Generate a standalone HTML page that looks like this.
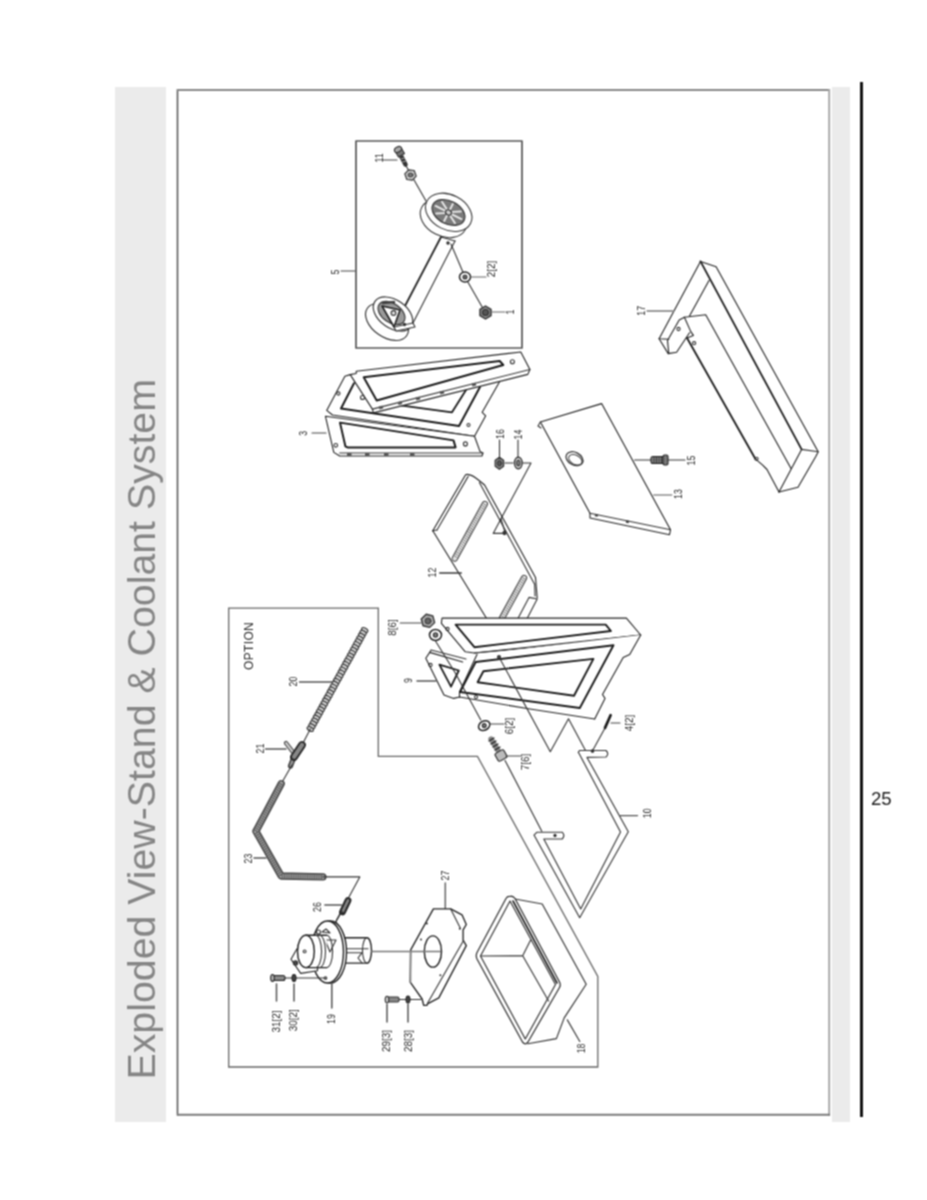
<!DOCTYPE html>
<html>
<head>
<meta charset="utf-8">
<style>
html,body{margin:0;padding:0;background:#fff;}
body{width:927px;height:1200px;position:relative;overflow:hidden;font-family:"Liberation Sans",sans-serif;}
svg{position:absolute;left:0;top:0;}
</style>
</head>
<body>
<svg width="927" height="1200" viewBox="0 0 927 1200">
<defs><filter id="bl" x="0" y="0" width="927" height="1200" filterUnits="userSpaceOnUse" color-interpolation-filters="sRGB"><feConvolveMatrix order="3" kernelMatrix="1 2 1 2 4 2 1 2 1" divisor="16" edgeMode="none"/></filter></defs>
<g filter="url(#bl)">
<rect x="0" y="0" width="927" height="1200" fill="#fff"/>
<rect x="115" y="87" width="51" height="1035" fill="#ebebeb"/>
<rect x="832" y="87" width="18" height="1035" fill="#ebebeb"/>
<rect x="860" y="82" width="3" height="1035" fill="#141414"/>
<text x="871" y="805" font-family="Liberation Sans" font-size="18.6" fill="#1a1a1a">25</text>
<text x="155" y="1079.5" transform="rotate(-90 155 1079.5)" font-family="Liberation Sans" font-size="39.3" fill="#858585">Exploded View-Stand &amp; Coolant System</text>
<path d="M177.5 89 V1115.5" stroke="#5a5a5a" stroke-width="1.6" fill="none"/>
<path d="M177 90 H830" stroke="#888" stroke-width="2" fill="none"/>
<path d="M829.2 89 V1115.7" stroke="#a8a8a8" stroke-width="2" fill="none"/>
<path d="M177 1114.7 H830" stroke="#7a7a7a" stroke-width="2" fill="none"/>
<g id="drawing" fill="none" stroke="#333" stroke-width="1.1" stroke-linejoin="round" stroke-linecap="round">
<!-- PART 5 inset -->
<rect x="356" y="141" width="166" height="207" stroke="#555" stroke-width="1.70"/>
<path d="M341 271 H355" stroke="#444"/>
<!-- bolt 11 -->
<path d="M383 160 H397" stroke="#444"/>
<path d="M400 154 L405.5 164.5" stroke="#333" stroke-width="4.50"/>
<path d="M399.5 156 L403 155 M401 159 L404.5 158 M402.5 162 L406 161" stroke="#999" stroke-width="1.07"/>
<path d="M395 151 L401 147.5 L404.5 153.5 L398.5 157 Z" fill="#777" stroke="#333"/>
<ellipse cx="398" cy="149.5" rx="3.8" ry="2.6" fill="#aaa" stroke="#333" transform="rotate(-30 398 149.5)"/>
<path d="M405 164 L426 201" stroke="#333"/>
<polygon points="410.5,169.5 415.5,172 415.5,178 410.5,180.5 405.5,178 405.5,172" fill="#c8c8c8" stroke="#333" stroke-width="1.16" transform="rotate(-20 410.5 175)"/>
<ellipse cx="410.5" cy="175" rx="2.5" ry="2" fill="#777" stroke="#333" stroke-width="0.89"/>
<!-- upper wheel -->
<ellipse cx="443.5" cy="218.5" rx="24.5" ry="17.5" fill="#fff" stroke="#333" stroke-width="1.07" transform="rotate(27 443.5 218.5)"/>
<ellipse cx="448.7" cy="212.3" rx="24.5" ry="17.5" fill="#fff" stroke="#333" stroke-width="1.07" transform="rotate(27 448.7 212.3)"/>
<g transform="rotate(27 448.5 212.5)">
<ellipse cx="448.5" cy="212.5" rx="17.5" ry="11.5" fill="#7a7a7a" stroke="#333"/>
<path d="M434 212.5 H444 M453 212.5 H463 M448.5 203 V209 M448.5 216 V222 M438 206 L445 210 M452 215 L459 219 M438 219 L445 215 M452 210 L459 206" stroke="#e8e8e8" stroke-width="1.97"/>
<ellipse cx="448.5" cy="212.5" rx="3" ry="2.5" fill="#ccc" stroke="#333"/>
</g>
<!-- axle -->
<path d="M441 237 L394 327" stroke="#222" stroke-width="1.79"/>
<path d="M455 241 L413 323" stroke="#333"/>
<path d="M441 237 L455 241" stroke="#333"/>
<circle cx="448" cy="243" r="1.2" fill="#333"/>
<!-- lower wheel -->
<ellipse cx="387" cy="322" rx="24" ry="15" fill="#fff" stroke="#333" stroke-width="1.16" transform="rotate(35 387 322)"/>
<ellipse cx="393" cy="314" rx="22" ry="14" fill="#fff" stroke="#333" stroke-width="1.16" transform="rotate(35 393 314)"/>
<ellipse cx="391.5" cy="313" rx="15" ry="9.5" fill="#9a9a9a" stroke="#333" transform="rotate(35 391.5 313)"/>
<path d="M382 306 L400 310 L394 327 Z" fill="#fff" stroke="#222" stroke-width="1.61"/>
<path d="M383 303 L394 302" stroke="#444" stroke-width="2.60"/>
<circle cx="393.5" cy="313" r="2.4" fill="#ddd" stroke="#333"/>
<path d="M394 327 L413 323 L415 327 L396 331 Z" fill="#fff" stroke="#333"/>
<circle cx="404.5" cy="324.5" r="1.1" fill="#333"/>
<!-- washers/nut -->
<path d="M451 244 L465 277 L485 312" stroke="#333"/>
<ellipse cx="465" cy="277" rx="5.5" ry="5" fill="#fff" stroke="#222" stroke-width="1.52"/>
<circle cx="465" cy="277" r="2" fill="#666"/>
<path d="M471 277 H486" stroke="#666"/>
<polygon points="485.5,306 491,309.3 491,315.7 485.5,319 480,315.7 480,309.3" fill="#8a8a8a" stroke="#333" stroke-width="1.43"/>
<circle cx="485.5" cy="312.5" r="3" fill="#555" stroke="#333"/>
<path d="M492 312 H505" stroke="#666"/>

<!-- PART 3 -->
<!-- B back bracket -->
<path d="M350.2 374.6 L344.9 376.2 L326.7 410.4 L332.5 415 L474.5 436.2 L485.7 415.8 L482.2 412.3 L499.7 381.5" fill="#fff" stroke="#222"/>
<path d="M354 383.2 L341 408.5 L459 426 L480 387" stroke="#1a1a1a" stroke-width="1.97"/>
<path d="M400.4 405.3 L452 412.3 L466 390" stroke="#1a1a1a" stroke-width="1.79"/>
<circle cx="468.5" cy="425" r="1.5" stroke="#333"/>
<circle cx="338.4" cy="393.5" r="1.6" stroke="#333"/>
<!-- A top bracket -->
<path d="M356.2 371.3 L520.8 352 L529.9 369.5 L527.8 374.4 L373.4 412.9 L372.4 409.1 L350.2 374.6 L356.2 373.5 Z" fill="#fff" stroke="#222"/>
<path d="M529.9 369.5 L372.4 409.1" stroke="#333"/>
<path d="M363.7 377.3 L499.7 361 L503.3 365 L376.7 400.5 Z" stroke="#1a1a1a" stroke-width="1.97"/>
<circle cx="512.4" cy="361.8" r="2" stroke="#333"/>
<circle cx="362.5" cy="397.5" r="2" stroke="#333"/>
<g fill="#555" stroke="none">
<rect x="379" y="406" width="4" height="3" transform="rotate(-14 381 407.5)"/>
<rect x="398" y="401.5" width="4" height="3" transform="rotate(-14 400 403)"/>
<rect x="416" y="397" width="4" height="3" transform="rotate(-14 418 398.5)"/>
<rect x="440" y="391" width="4" height="3" transform="rotate(-14 442 392.5)"/>
<rect x="472" y="383" width="4" height="3" transform="rotate(-14 474 384.5)"/>
</g>
<!-- C bottom bracket -->
<path d="M325.4 416.2 L474.5 436.2 L480.1 451.6 L482.9 453 L482 456 L339.7 456 L333.8 452.4 Z" fill="#fff" stroke="#222"/>
<path d="M339.7 453 L482.9 453" stroke="#333"/>
<path d="M340 422.6 L453.5 440.4 L455.6 447.4 L347.5 447.4 L345.4 446.3 Z" stroke="#1a1a1a" stroke-width="1.97"/>
<circle cx="465.4" cy="443.9" r="2" stroke="#333"/>
<circle cx="335.8" cy="445.3" r="1.8" stroke="#333"/>
<g fill="#555" stroke="none">
<rect x="347" y="453" width="4.5" height="3"/>
<rect x="365" y="453" width="4.5" height="3"/>
<rect x="384" y="453" width="4.5" height="3"/>
<rect x="410" y="453" width="4.5" height="3"/>
</g>
<path d="M312 433 H326" stroke="#444"/>

<!-- PART 17 -->
<path d="M700.5 261.4 L716.1 266.8 L818.2 451.7 L815.8 456.5 L798 487.3 L779 492 L767 469.5 L755.3 458.8 L687 338 L693.4 335.4 L690.8 331.6 L684.4 317.3 L679.2 319.9 L667.5 340.6 L668.8 353.6 L659.1 338.7 Z" fill="#fff" stroke="none"/>
<path d="M700.5 261.4 L716.1 266.8 L818.2 451.7 L815.8 456.5 L798 487.3 L779 492" stroke="#222"/>
<path d="M700.5 261.4 L801.6 449.4" stroke="#1a1a1a" stroke-width="1.79"/>
<path d="M801.6 449.4 L818.2 451.7" stroke="#333"/>
<path d="M801.6 449.4 L779 492" stroke="#222"/>
<path d="M700.5 261.4 L659.1 338.7 L668.8 339.3" stroke="#222"/>
<path d="M659.1 338.7 L668.2 353.6 L676.6 352.3 L689.5 332.8" stroke="#222"/>
<path d="M709 280.4 L689.5 316" stroke="#222"/>
<path d="M684.4 317.3 L705.7 314.7 L790.9 468.3" stroke="#222"/>
<path d="M684.4 317.3 L679.2 319.9 L667.5 340.6 L668.8 353.6" stroke="#222"/>
<path d="M684.4 317.3 L690.8 331.6 L693.4 335.4 L687 338" stroke="#222"/>
<path d="M687 338 L755.3 458.8" stroke="#1a1a1a" stroke-width="1.79"/>
<path d="M755.3 458.8 L762.4 464.8 L767 469.5 L779 492" stroke="#222"/>
<circle cx="678.5" cy="329" r="1.6" stroke="#333"/>
<circle cx="694.1" cy="343.2" r="1.6" stroke="#333"/>
<circle cx="756.5" cy="458.8" r="1.6" stroke="#333"/>
<path d="M647.3 310.9 H673" stroke="#999" stroke-width="1.97"/>
<!-- PART 13 plate -->
<path d="M540.4 422 L601.6 403.6 L670.5 529.8 L669.5 534.7 L590 518 L590 513.3 Z" fill="#fff" stroke="#222"/>
<path d="M590 513.3 L670.5 529.8" stroke="#333"/>
<path d="M540.4 422 L538 426 L541 428" stroke="#333"/>
<rect x="595" y="514" width="3" height="2.5" fill="#444" stroke="none" transform="rotate(12 596.5 515)"/>
<rect x="626" y="520.5" width="3" height="2.5" fill="#444" stroke="none" transform="rotate(12 627.5 521.5)"/>
<ellipse cx="574.5" cy="458.7" rx="9" ry="6.3" stroke="#333" stroke-width="1.25" transform="rotate(28 574.5 458.7)"/>
<ellipse cx="575.3" cy="459.8" rx="7.2" ry="4.6" stroke="#444" stroke-width="1.07" transform="rotate(28 575.3 459.8)"/>
<path d="M634.6 460 H651" stroke="#333"/>
<path d="M654 495 H671.5" stroke="#aaa" stroke-width="1.97"/>
<!-- 15 bolt -->
<rect x="651" y="456.5" width="15" height="7" rx="2" fill="#888" stroke="#222"/>
<path d="M654 457 V463 M656.5 457 V463 M659 457 V463 M661.5 457 V463" stroke="#333" stroke-width="1.07"/>
<rect x="663" y="455" width="5" height="10" rx="1.5" fill="#777" stroke="#222"/>
<path d="M668 460 H685" stroke="#333"/>

<!-- PART 12 shelf -->
<path d="M465.6 474.7 L479.4 480.7 L484.6 485 L535.5 577.4 L537.2 598 L529.4 598 L519 618 L486.3 618 L432.8 530.8 Z" fill="#fff" stroke="none"/>
<path d="M432.8 530.8 L465.6 474.7 Q470 473 479.4 480.7 L484.6 485 L535.5 577.4 L537.2 598" stroke="#222"/>
<path d="M437 530 L468.2 476.4" stroke="#333"/>
<path d="M432.8 530.8 L437 530" stroke="#333"/>
<path d="M479.4 482.4 L534.6 584.3" stroke="#333"/>
<path d="M432.8 530.8 L486.3 618" stroke="#222"/>
<path d="M537.2 599 L529 597.4 L518.2 618 M537.2 599 L527.4 618" stroke="#333"/>
<path d="M534.6 584.3 L535 596" stroke="#333"/>
<!-- slots -->
<path d="M484.8 504 L454.8 558.5" stroke="#333" stroke-width="6.30"/>
<path d="M484.8 504 L454.8 558.5" stroke="#e6e6e6" stroke-width="4.50"/>
<path d="M484.8 504 L454.8 558.5" stroke="#666" stroke-width="4.50" stroke-dasharray="0.7 1.6" stroke-linecap="butt"/>
<path d="M524 578 L502 618" stroke="#333" stroke-width="6.30"/>
<path d="M524 578 L501 620" stroke="#e6e6e6" stroke-width="4.50"/>
<path d="M524 578 L501 620" stroke="#666" stroke-width="4.50" stroke-dasharray="0.7 1.6" stroke-linecap="butt"/>
<path d="M439.7 573 H461.3" stroke="#3a3a3a" stroke-width="1.43"/>
<!-- 16 / 14 -->
<path d="M499.5 440 V457 M518 440 V457" stroke="#333"/>
<path d="M505 463 H513 M523 463 H531 L501 518.7" stroke="#333"/>
<path d="M501 518.7 L493.2 533.4 L505.3 533.4 Z" stroke="#333"/>
<circle cx="504.5" cy="533" r="1.6" fill="#333"/>
<polygon points="499.4,457.3 503.6,460.3 503.6,466.3 499.4,469.3 495.2,466.3 495.2,460.3" fill="#8a8a8a" stroke="#333" stroke-width="1.25"/>
<ellipse cx="499.4" cy="463.3" rx="2.2" ry="2.8" fill="#555" stroke="#333" stroke-width="0.89"/>
<ellipse cx="518.3" cy="463" rx="3.8" ry="5.8" fill="#ddd" stroke="#333" stroke-width="1.43"/>
<ellipse cx="518.3" cy="463" rx="1.6" ry="3" fill="#888" stroke="#333" stroke-width="1.07"/>

<!-- PART 9 -->
<!-- small left bracket -->
<path d="M429.7 652.4 L425.8 658.3 L444 695 L453.7 698.4 L470 700 L477 654.4 L462.7 662 Z" fill="#fff" stroke="none"/>
<path d="M462.7 662 L429.7 652.4 L425.8 658.3 L444 695 L453.7 698.4" stroke="#222"/>
<path d="M429.7 652.4 L431 650 L466 659" stroke="#333"/>
<path d="M439.4 664.7 L451 686.7 L458.8 670.5 Z" stroke="#1a1a1a" stroke-width="1.79"/>
<circle cx="430.5" cy="665" r="1.6" stroke="#333"/>
<!-- top plate -->
<path d="M442 618.1 L626.4 618.1 L640.7 635 L474.4 653 L465.3 651.8 L441.4 623.3 Z" fill="#fff" stroke="#222"/>
<path d="M640.7 635 L530 648 L474.4 653" stroke="#333"/>
<path d="M455.6 624.6 L605.7 624.6 L610.9 631 L474.4 647.2 Z" stroke="#1a1a1a" stroke-width="1.88"/>
<circle cx="447.5" cy="629" r="1.6" stroke="#333"/>
<!-- main frame -->
<path d="M477 654.4 L640.7 635 L629.7 654.4 L623.2 657.6 L602.5 694.5 L605 698.4 L594.7 719 L459.5 697 L454 700 L460 692 Z" fill="#fff" stroke="none"/>
<path d="M640.7 635 L629.7 654.4 L623.2 657.6 L602.5 694.5 L605 698.4 L594.7 719" stroke="#222"/>
<path d="M594.7 719 L530 709 L459.5 697 L453.7 698.4" stroke="#222"/>
<path d="M477 654.4 L459.5 692 L459.5 697" stroke="#222"/>
<path d="M475.7 662 L613.5 645.3 L579.8 708 L460 692" stroke="#1a1a1a" stroke-width="1.88"/>
<path d="M475.7 662 L460 692" stroke="#1a1a1a" stroke-width="1.88"/>
<path d="M483.4 671.2 L593.4 658.9 L574 695.8 L477.6 682.2 Z" stroke="#1a1a1a" stroke-width="1.88"/>
<circle cx="499" cy="657" r="1.5" fill="#555" stroke="#333"/>
<circle cx="476" cy="697" r="1.5" stroke="#333"/>
<!-- nuts / washers 8, 6, 7 -->
<path d="M400.2 623 H421" stroke="#444"/>
<path d="M435.5 641 L455 672.5 L480.8 720" stroke="#333"/>

<polygon points="428,614 434,617.3 434,624.3 428,627.6 422,624.3 422,617.3" fill="#aaa" stroke="#333" stroke-width="1.34" transform="rotate(-15 428 621)"/>
<circle cx="428" cy="621" r="3" fill="#666" stroke="#333" stroke-width="0.89"/>
<ellipse cx="435.5" cy="635" rx="6" ry="5.5" fill="#fff" stroke="#222" stroke-width="1.52"/>
<circle cx="435.5" cy="635" r="2.2" fill="#777"/>
<path d="M417 681 H436" stroke="#555" stroke-width="1.43"/>

<!-- PART 10 base -->
<path d="M587 757.4 L628.3 831.7 L579.7 917.7 L534 835.1 L537 832.2 L562.2 832.2 Q565.5 835.6 562.2 839 L543.8 839 L580.7 909 L620.5 832 L579.2 753.7 L578.3 752.4 L579.5 750.5 L606 750.5 Q609.5 753.7 606 757 Z" fill="#fff" stroke="#333" stroke-width="1.11"/>
<circle cx="592.5" cy="751" r="1.3" fill="#222"/>
<circle cx="555" cy="835.5" r="1.1" fill="#222"/>
<path d="M592.4 751 L605 727.9" stroke="#333"/>
<path d="M605 727.9 L610.6 715.2" stroke="#1a1a1a" stroke-width="2.69"/>
<path d="M611 723 H620" stroke="#444"/>
<path d="M505 760.4 L541.8 831.3" stroke="#333"/>
<path d="M619.6 815.6 H637.5" stroke="#555" stroke-width="1.43"/>
<!-- zigzag lines from 9 -->
<path d="M499 657 L550.3 751.7 L568.5 718.8 L585.5 750.5" stroke="#333"/>
<!-- 6(2) washer -->
<ellipse cx="484.2" cy="725.6" rx="6" ry="4.5" fill="#fff" stroke="#222" stroke-width="1.52" transform="rotate(-30 484.2 725.6)"/>
<circle cx="484.2" cy="725.6" r="2" fill="#777"/>
<path d="M490 724 H504" stroke="#444"/>
<!-- 7(6) bolt -->
<path d="M491 739 L499 752" stroke="#888" stroke-width="5.30"/>
<path d="M489 741 L494 738 M491 744 L496 741 M493 747 L498 744 M495 750 L500 747" stroke="#222" stroke-width="1.25"/>
<rect x="496" y="751" width="10" height="9" rx="2" fill="#bbb" stroke="#222" transform="rotate(-30 501 755.5)"/>
<path d="M506 756 H520.5" stroke="#444"/>

<!-- OPTION box -->
<path d="M228.7 608.2 H378.3 V756.4 H477.5 L597.8 976.5 V1067 H228.7 Z" stroke="#666" stroke-width="1.29" stroke-linejoin="miter"/>
<!-- hose 20 -->
<g fill="#d0d0d0" stroke="#333" stroke-width="1.07"><ellipse cx="364.7" cy="630.0" rx="3.4" ry="2" transform="rotate(208.8 364.7 630.0)"/><ellipse cx="363.1" cy="632.8" rx="3.4" ry="2" transform="rotate(208.8 363.1 632.8)"/><ellipse cx="361.6" cy="635.7" rx="3.4" ry="2" transform="rotate(208.8 361.6 635.7)"/><ellipse cx="360.0" cy="638.5" rx="3.4" ry="2" transform="rotate(208.8 360.0 638.5)"/><ellipse cx="358.5" cy="641.3" rx="3.4" ry="2" transform="rotate(208.8 358.5 641.3)"/><ellipse cx="356.9" cy="644.1" rx="3.4" ry="2" transform="rotate(208.8 356.9 644.1)"/><ellipse cx="355.4" cy="647.0" rx="3.4" ry="2" transform="rotate(208.8 355.4 647.0)"/><ellipse cx="353.8" cy="649.8" rx="3.4" ry="2" transform="rotate(208.8 353.8 649.8)"/><ellipse cx="352.3" cy="652.6" rx="3.4" ry="2" transform="rotate(208.8 352.3 652.6)"/><ellipse cx="350.7" cy="655.5" rx="3.4" ry="2" transform="rotate(208.8 350.7 655.5)"/><ellipse cx="349.2" cy="658.3" rx="3.4" ry="2" transform="rotate(208.8 349.2 658.3)"/><ellipse cx="347.6" cy="661.1" rx="3.4" ry="2" transform="rotate(208.8 347.6 661.1)"/><ellipse cx="346.0" cy="663.9" rx="3.4" ry="2" transform="rotate(208.8 346.0 663.9)"/><ellipse cx="344.5" cy="666.8" rx="3.4" ry="2" transform="rotate(208.8 344.5 666.8)"/><ellipse cx="342.9" cy="669.6" rx="3.4" ry="2" transform="rotate(208.8 342.9 669.6)"/><ellipse cx="341.4" cy="672.4" rx="3.4" ry="2" transform="rotate(208.8 341.4 672.4)"/><ellipse cx="339.8" cy="675.3" rx="3.4" ry="2" transform="rotate(208.8 339.8 675.3)"/><ellipse cx="338.3" cy="678.1" rx="3.4" ry="2" transform="rotate(208.8 338.3 678.1)"/><ellipse cx="336.7" cy="680.9" rx="3.4" ry="2" transform="rotate(208.8 336.7 680.9)"/><ellipse cx="335.2" cy="683.7" rx="3.4" ry="2" transform="rotate(208.8 335.2 683.7)"/><ellipse cx="333.6" cy="686.6" rx="3.4" ry="2" transform="rotate(208.8 333.6 686.6)"/><ellipse cx="332.1" cy="689.4" rx="3.4" ry="2" transform="rotate(208.8 332.1 689.4)"/><ellipse cx="330.5" cy="692.2" rx="3.4" ry="2" transform="rotate(208.8 330.5 692.2)"/><ellipse cx="329.0" cy="695.1" rx="3.4" ry="2" transform="rotate(208.8 329.0 695.1)"/><ellipse cx="327.4" cy="697.9" rx="3.4" ry="2" transform="rotate(208.8 327.4 697.9)"/><ellipse cx="325.8" cy="700.7" rx="3.4" ry="2" transform="rotate(208.8 325.8 700.7)"/><ellipse cx="324.3" cy="703.5" rx="3.4" ry="2" transform="rotate(208.8 324.3 703.5)"/><ellipse cx="322.7" cy="706.4" rx="3.4" ry="2" transform="rotate(208.8 322.7 706.4)"/><ellipse cx="321.2" cy="709.2" rx="3.4" ry="2" transform="rotate(208.8 321.2 709.2)"/><ellipse cx="319.6" cy="712.0" rx="3.4" ry="2" transform="rotate(208.8 319.6 712.0)"/><ellipse cx="318.1" cy="714.9" rx="3.4" ry="2" transform="rotate(208.8 318.1 714.9)"/><ellipse cx="316.5" cy="717.7" rx="3.4" ry="2" transform="rotate(208.8 316.5 717.7)"/><ellipse cx="315.0" cy="720.5" rx="3.4" ry="2" transform="rotate(208.8 315.0 720.5)"/><ellipse cx="313.4" cy="723.3" rx="3.4" ry="2" transform="rotate(208.8 313.4 723.3)"/><ellipse cx="311.9" cy="726.2" rx="3.4" ry="2" transform="rotate(208.8 311.9 726.2)"/><ellipse cx="310.3" cy="729.0" rx="3.4" ry="2" transform="rotate(208.8 310.3 729.0)"/></g>
<path d="M299.6 682 H331.7" stroke="#555" stroke-width="1.52"/>
<path d="M310.3 729 L302 745" stroke="#333"/>
<!-- valve 21 -->
<path d="M292.5 751.5 L286 743" stroke="#444" stroke-width="4.30"/>
<path d="M292.5 751.5 L286 743" stroke="#ccc" stroke-width="2.15"/>
<path d="M294 757 L290.5 766" stroke="#444" stroke-width="5.30"/>
<path d="M294 757 L290.5 766" stroke="#999" stroke-width="2.15"/>
<path d="M302 745 L294 757" stroke="#2a2a2a" stroke-width="7.80"/>
<path d="M302 745 L294 757" stroke="#888" stroke-width="4.30" stroke-dasharray="1 1.6"/>
<path d="M265.6 749 H286" stroke="#555" stroke-width="1.52"/>
<!-- hose 23 -->
<path d="M291.8 765.2 L281.2 783.7" stroke="#333"/>
<path d="M281.2 783.7 L255.9 831.3 L281.2 876 L322.9 876.9" stroke="#444" stroke-width="7.30" stroke-linejoin="round"/>
<path d="M281.2 783.7 L255.9 831.3 L281.2 876 L322.9 876.9" stroke="#a0a0a0" stroke-width="4.50" stroke-linejoin="round"/>
<path d="M281.2 783.7 L255.9 831.3 L281.2 876 L322.9 876.9" stroke="#555" stroke-width="4.50" stroke-dasharray="1 1.3" stroke-linecap="butt" stroke-linejoin="round"/>
<path d="M254 858 H266" stroke="#555" stroke-width="1.52"/>
<path d="M322.9 876.9 H359.8 L336.5 920 L335.7 923" stroke="#333"/>
<!-- fitting 26 -->
<path d="M348 900.5 L342.5 912" stroke="#2a2a2a" stroke-width="6.80"/>
<path d="M348 900.5 L342.5 912" stroke="#888" stroke-width="2.60" stroke-dasharray="1.2 1.4"/>
<path d="M324.9 905 H341.4" stroke="#555" stroke-width="1.52"/>

<!-- PUMP 19 -->
<path d="M372 951.5 H440" stroke="#444"/>
<!-- right cylinder -->
<path d="M343 937.8 H367 A4.5 12.6 0 0 1 367 963.1 H343 Z" fill="#fff" stroke="#222" stroke-width="1.43"/>
<path d="M367 937.8 A4.5 12.6 0 0 0 367 963.1" stroke="#333"/>
<path d="M344 948.8 H368 M344 952.7 H362 L358 958 L362 963" stroke="#333"/>
<!-- flange -->
<ellipse cx="330.5" cy="952" rx="16" ry="31" fill="#fff" stroke="#222" stroke-width="1.43"/>
<ellipse cx="327.5" cy="952" rx="16" ry="31" fill="#fff" stroke="#222" stroke-width="1.43"/>
<path d="M322 932 L326 929 L330 933 Z" stroke="#333"/>
<circle cx="318.5" cy="932" r="2" stroke="#333"/>
<path d="M325 940 L336 940 L330 952 Z" stroke="#333"/>
<!-- bracket -->
<path d="M291 959.2 L297 948.8 L317.5 955 L317.5 970.8 L300.7 973.4 Z" fill="#fff" stroke="#222"/>
<circle cx="295.5" cy="963.1" r="2.2" fill="#444"/>
<!-- motor cylinder -->
<path d="M305.9 935.2 H326.6 V967.6 H305.9 Z" fill="#fff" stroke="none"/>
<path d="M305.9 935.2 H326.6 M305.9 967.6 H326.6" stroke="#222" stroke-width="1.43"/>
<path d="M315.6 935.2 A6 16.2 0 0 1 315.6 967.6 M319.5 935.2 A6 16.2 0 0 1 319.5 967.6 M326.6 935.2 A6 16.2 0 0 1 326.6 967.6" stroke="#333"/>
<ellipse cx="305.9" cy="951.4" rx="8.4" ry="16.2" fill="#fff" stroke="#222" stroke-width="1.43"/>
<circle cx="304.6" cy="951.4" r="1.4" stroke="#333"/>
<!-- screws 31 / 30 -->
<path d="M285 978 H326" stroke="#333"/>
<rect x="272" y="975.5" width="13" height="5" rx="2" fill="#888" stroke="#222"/>
<ellipse cx="272.5" cy="978" rx="1.8" ry="3.5" fill="#bbb" stroke="#222"/>
<ellipse cx="294" cy="978" rx="2" ry="3.5" fill="#444" stroke="#222"/>
<circle cx="325.5" cy="978" r="1.3" stroke="#333"/>
<path d="M276.5 984 V1001 M294 984 V1001 M331.8 983 V1008" stroke="#555" stroke-width="1.52"/>
<!-- fitting 26 line -->
<path d="M342.1 911.3 L334.4 924.2" stroke="#333"/>

<!-- PLATE 27 -->
<path d="M445.3 883 V912" stroke="#666" stroke-width="1.52"/>
<path d="M433.4 908.9 L450.7 908.9 L462 914.8 L466.3 924.5 L463.1 929.9 L463.1 940.2 L466.3 945.6 L438.8 997.9 L427.5 1003.8 L426.9 1005.4 L423.7 1005.4 L422.1 999 L410.2 982.2 L410.7 949.9 Z" fill="#fff" stroke="#222" stroke-width="1.34"/>
<path d="M450.7 908.9 L460.4 928.3 M463.1 941.2 L427.5 1003.3" stroke="#333"/>
<ellipse cx="432.9" cy="951.5" rx="8.6" ry="15.6" stroke="#222" stroke-width="1.43"/>
<path d="M372 951.5 H440.4" stroke="#777" stroke-width="1.70"/>
<path d="M410.5 951.5 V982" stroke="#888" stroke-width="1.70"/>
<g fill="#333" stroke="none">
<circle cx="426.9" cy="923.4" r="1"/><circle cx="421" cy="939.6" r="1"/><circle cx="459.8" cy="928.8" r="1"/><circle cx="440.4" cy="975.2" r="1"/>
</g>
<!-- screws 29 / 28 -->
<path d="M399 999.5 H421" stroke="#333"/>
<rect x="387" y="997" width="12" height="5" rx="1.5" fill="#888" stroke="#333"/>
<ellipse cx="387" cy="999.5" rx="1.8" ry="3.3" fill="#ccc" stroke="#333"/>
<ellipse cx="408" cy="999.5" rx="2" ry="3.5" fill="#444" stroke="#222"/>
<path d="M387 1004 V1022 M408 1004 V1022" stroke="#555" stroke-width="1.52"/>
<!-- TRAY 18 -->
<path d="M513.7 898.8 L542.2 904 L586.2 984.3 L564.2 1017.9 L556.4 1038.6 L527.9 1043.8" fill="#fff" stroke="#333" stroke-width="1.16"/>
<path d="M509.8 896.5 Q513 895.5 515 898.5 L559.5 982 Q561 985 559.5 987.5 L528 1042 Q525.3 1045.5 522.5 1042 L477 959 Q475.5 955.8 477 952.5 L506 898.5 Q507.5 896 509.8 896.5 Z" fill="#fff" stroke="#333" stroke-width="1.25"/>
<path d="M510 901 L555.5 984.5 L525.3 1039 L480.5 956 Z" stroke="#333" stroke-width="1.16" stroke-linejoin="round"/>
<path d="M513 901 L557 983" stroke="#222" stroke-width="1.61"/>
<path d="M480.5 956 L522.7 955.8 L530.5 940.3 M522.7 955.8 L548.6 1001.1" stroke="#333"/>
<path d="M567.3 1019.9 L579.8 1041.5" stroke="#333"/>


</g>
<g id="labels" font-family="Liberation Sans" font-size="10" fill="#2a2a2a" text-anchor="middle">
<text x="335.0" y="272.0" dy="0.36em" font-size="11.0" transform="rotate(-90 335.0 272.0) translate(335.0 272.0) scale(0.80 1) translate(-335.0 -272.0)">5</text>
<text x="379.0" y="158.0" dy="0.36em" font-size="11.0" transform="rotate(-90 379.0 158.0) translate(379.0 158.0) scale(0.80 1) translate(-379.0 -158.0)">11</text>
<text x="491.0" y="269.0" dy="0.36em" font-size="11.0" transform="rotate(-90 491.0 269.0) translate(491.0 269.0) scale(0.90 1) translate(-491.0 -269.0)">2[2]</text>
<text x="510.0" y="312.0" dy="0.36em" font-size="11.0" transform="rotate(-90 510.0 312.0) translate(510.0 312.0) scale(0.80 1) translate(-510.0 -312.0)">1</text>
<text x="303.5" y="433.3" dy="0.36em" font-size="11.0" transform="rotate(-90 303.5 433.3) translate(303.5 433.3) scale(0.80 1) translate(-303.5 -433.3)">3</text>
<text x="640.9" y="310.8" dy="0.36em" font-size="11.0" transform="rotate(-90 640.9 310.8) translate(640.9 310.8) scale(0.80 1) translate(-640.9 -310.8)">17</text>
<text x="691.0" y="460.5" dy="0.36em" font-size="11.0" transform="rotate(-90 691.0 460.5) translate(691.0 460.5) scale(0.80 1) translate(-691.0 -460.5)">15</text>
<text x="678.0" y="494.0" dy="0.36em" font-size="11.0" transform="rotate(-90 678.0 494.0) translate(678.0 494.0) scale(0.80 1) translate(-678.0 -494.0)">13</text>
<text x="432.0" y="572.5" dy="0.36em" font-size="11.0" transform="rotate(-90 432.0 572.5) translate(432.0 572.5) scale(0.80 1) translate(-432.0 -572.5)">12</text>
<text x="499.6" y="434.0" dy="0.36em" font-size="11.0" transform="rotate(-90 499.6 434.0) translate(499.6 434.0) scale(0.80 1) translate(-499.6 -434.0)">16</text>
<text x="518.0" y="434.5" dy="0.36em" font-size="11.0" transform="rotate(-90 518.0 434.5) translate(518.0 434.5) scale(0.80 1) translate(-518.0 -434.5)">14</text>
<text x="392.3" y="627.4" dy="0.36em" font-size="11.0" transform="rotate(-90 392.3 627.4) translate(392.3 627.4) scale(0.90 1) translate(-392.3 -627.4)">8[6]</text>
<text x="408.0" y="680.5" dy="0.36em" font-size="11.0" transform="rotate(-90 408.0 680.5) translate(408.0 680.5) scale(0.80 1) translate(-408.0 -680.5)">9</text>
<text x="509.0" y="726.0" dy="0.36em" font-size="11.0" transform="rotate(-90 509.0 726.0) translate(509.0 726.0) scale(0.90 1) translate(-509.0 -726.0)">6[2]</text>
<text x="525.5" y="762.0" dy="0.36em" font-size="11.0" transform="rotate(-90 525.5 762.0) translate(525.5 762.0) scale(0.90 1) translate(-525.5 -762.0)">7[6]</text>
<text x="629.5" y="723.0" dy="0.36em" font-size="11.0" transform="rotate(-90 629.5 723.0) translate(629.5 723.0) scale(0.90 1) translate(-629.5 -723.0)">4[2]</text>
<text x="647.0" y="813.3" dy="0.36em" font-size="11.0" transform="rotate(-90 647.0 813.3) translate(647.0 813.3) scale(0.80 1) translate(-647.0 -813.3)">10</text>
<text x="248.8" y="645.9" dy="0.36em" font-size="12.3" transform="rotate(-90 248.8 645.9) translate(248.8 645.9) scale(0.97 1) translate(-248.8 -645.9)" letter-spacing="0.4">OPTION</text>
<text x="293.0" y="681.5" dy="0.36em" font-size="11.0" transform="rotate(-90 293.0 681.5) translate(293.0 681.5) scale(0.80 1) translate(-293.0 -681.5)">20</text>
<text x="260.0" y="748.5" dy="0.36em" font-size="11.0" transform="rotate(-90 260.0 748.5) translate(260.0 748.5) scale(0.80 1) translate(-260.0 -748.5)">21</text>
<text x="248.0" y="858.5" dy="0.36em" font-size="11.0" transform="rotate(-90 248.0 858.5) translate(248.0 858.5) scale(0.80 1) translate(-248.0 -858.5)">23</text>
<text x="317.0" y="907.0" dy="0.36em" font-size="11.0" transform="rotate(-90 317.0 907.0) translate(317.0 907.0) scale(0.80 1) translate(-317.0 -907.0)">26</text>
<text x="331.5" y="1019.0" dy="0.36em" font-size="11.0" transform="rotate(-90 331.5 1019.0) translate(331.5 1019.0) scale(0.80 1) translate(-331.5 -1019.0)">19</text>
<text x="275.6" y="1021.5" dy="0.36em" font-size="11.0" transform="rotate(-90 275.6 1021.5) translate(275.6 1021.5) scale(0.90 1) translate(-275.6 -1021.5)">31[2]</text>
<text x="293.0" y="1020.2" dy="0.36em" font-size="11.0" transform="rotate(-90 293.0 1020.2) translate(293.0 1020.2) scale(0.90 1) translate(-293.0 -1020.2)">30[2]</text>
<text x="445.5" y="875.5" dy="0.36em" font-size="11.0" transform="rotate(-90 445.5 875.5) translate(445.5 875.5) scale(0.80 1) translate(-445.5 -875.5)">27</text>
<text x="385.7" y="1041.0" dy="0.36em" font-size="11.0" transform="rotate(-90 385.7 1041.0) translate(385.7 1041.0) scale(0.90 1) translate(-385.7 -1041.0)">29[3]</text>
<text x="408.0" y="1041.0" dy="0.36em" font-size="11.0" transform="rotate(-90 408.0 1041.0) translate(408.0 1041.0) scale(0.90 1) translate(-408.0 -1041.0)">28[3]</text>
<text x="581.2" y="1048.4" dy="0.36em" font-size="11.0" transform="rotate(-90 581.2 1048.4) translate(581.2 1048.4) scale(0.80 1) translate(-581.2 -1048.4)">18</text>

</g>
</g>
</svg>
</body>
</html>
